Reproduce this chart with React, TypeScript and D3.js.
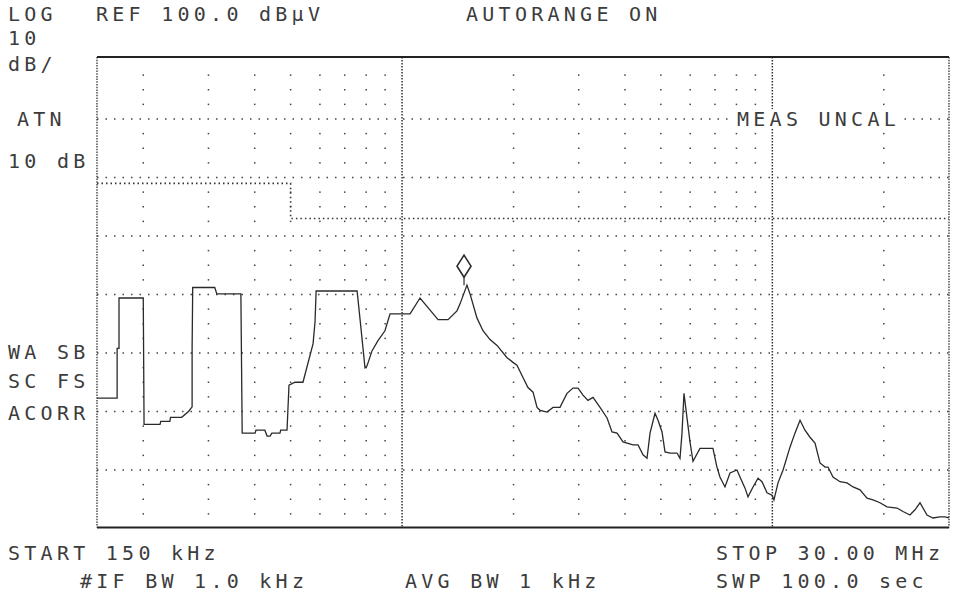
import React from "react";
import * as d3 from "d3";

// Spectrum trace (frequency in MHz, level in dBμV)
const traceFreq = [
  0.15, 0.17, 0.17, 0.172, 0.172, 0.2, 0.201, 0.222, 0.223, 0.236, 0.237, 0.254, 0.265, 0.271, 0.271, 0.272,
  0.312, 0.316, 0.367, 0.37, 0.401, 0.403, 0.426, 0.432, 0.44, 0.445, 0.468, 0.47, 0.489, 0.495, 0.514, 0.54,
  0.575, 0.582, 0.586, 0.756, 0.77, 0.794, 0.804, 0.83, 0.861, 0.899, 0.928, 1.051, 1.118, 1.251, 1.331, 1.407,
  1.434, 1.497, 1.526, 1.593, 1.654, 1.728, 1.805, 1.921, 1.993, 2.043, 2.121, 2.188, 2.258, 2.315, 2.358, 2.463,
  2.557, 2.67, 2.789, 2.895, 2.986, 3.081, 3.178, 3.279, 3.425, 3.578, 3.69, 3.807, 3.951, 4.204, 4.338, 4.475,
  4.587, 4.674, 4.821, 4.912, 5.036, 5.13, 5.292, 5.527, 5.631, 5.702, 5.773, 5.882, 5.993, 6.105, 6.377, 6.912,
  7.086, 7.22, 7.449, 7.685, 8.027, 8.178, 8.438, 8.597, 8.868, 9.149, 9.378, 9.674, 9.98, 10.1, 10.36, 10.69,
  11.16, 11.51, 11.88, 12.25, 12.64, 13.04, 13.45, 13.88, 14.14, 14.58, 15.23, 15.91, 16.52, 17.25, 18.02, 18.7,
  19.53, 20.4, 21.71, 22.54, 23.53, 24.28, 25.05, 26.16, 27.15, 28.36, 29.27, 30.0,
];
const traceLevel = [
  42.3, 42.3, 50.8, 50.8, 59.4, 59.4, 37.8, 37.8, 38.3, 38.3, 39.0, 39.0, 40.0, 40.8, 50.8, 61.2,
  61.2, 60.1, 60.1, 36.3, 36.3, 36.8, 36.8, 35.8, 35.8, 36.3, 36.3, 36.8, 36.8, 44.5, 45.0, 45.0,
  51.6, 55.3, 60.6, 60.6, 55.8, 47.5, 47.8, 50.4, 52.1, 53.8, 56.7, 56.7, 59.4, 55.7, 55.7, 57.2,
  58.4, 61.6, 60.1, 56.0, 53.8, 52.3, 51.3, 49.2, 48.4, 47.9, 45.8, 44.1, 43.3, 40.7, 40.2, 39.9,
  40.7, 40.7, 43.1, 44.0, 44.0, 42.8, 41.9, 42.4, 40.7, 38.9, 36.5, 36.3, 34.8, 34.3, 34.3, 32.6,
  32.0, 36.3, 39.7, 38.5, 36.5, 33.1, 32.9, 32.9, 32.0, 36.3, 43.1, 38.9, 34.8, 31.5, 33.7, 33.7,
  30.5, 28.8, 27.1, 29.5, 30.0, 28.8, 26.9, 25.4, 27.1, 28.6, 28.0, 26.1, 25.7, 24.9, 27.8, 30.0,
  33.9, 36.3, 38.5, 36.8, 35.6, 34.6, 31.2, 30.5, 30.5, 28.8, 28.0, 27.8, 27.1, 26.6, 25.2, 24.9,
  24.4, 23.7, 23.5, 22.9, 22.3, 23.2, 24.4, 22.3, 21.8, 22.0, 22.0, 21.8,
];

// Limit line (CISPR class A QP)
const limitFreq = [0.15, 0.5, 0.5, 30];
const limitLevel = [79, 79, 73, 73];

// Marker
const markerFreq = 1.47;
const markerLevel = 61.6;

// Graticule
const decadeFreqs = [1, 10];
const minorFreqs = [0.2, 0.3, 0.4, 0.5, 0.6, 0.7, 0.8, 0.9, 2, 3, 4, 5, 6, 7, 8, 9, 20];
const levelLines = [30, 40, 50, 60, 70, 80, 90];
const refLevel = 100;
const bottomLevel = 20;

const FONT = "'DejaVu Sans Mono', 'Liberation Mono', monospace";
const INK = "#2a2a2a";

export default function App() {
  const x = d3.scaleLog().domain([0.15, 30]).range([97, 949]);
  const y = d3.scaleLinear().domain([bottomLevel, refLevel]).range([528.5, 60.5]);

  const line = d3
    .line<number>()
    .x((_, i) => x(traceFreq[i]))
    .y((d) => y(d));
  const limitLine = d3
    .line<number>()
    .x((_, i) => x(limitFreq[i]))
    .y((d) => y(d));

  const dotLevels: number[] = [];
  for (let v = bottomLevel + 2.5; v < refLevel; v += 2.5) {
    if (Math.abs(v % 10) > 0.01) dotLevels.push(v);
  }

  const [x0, x1] = x.range();
  const yb = 527.5;
  const yt = 57;
  const mx = x(markerFreq);
  const my = y(markerLevel);

  const txt = (s: string, tx: number, ty: number, key: string) => (
    <text
      key={key}
      x={tx}
      y={ty}
      fontFamily={FONT}
      fontSize={20}
      letterSpacing={4.26}
      fill="#3c3c3c"
    >
      {s}
    </text>
  );

  return (
    <svg
      width={956}
      height={604}
      style={{ position: "absolute", left: 0, top: 0, background: "#fff" }}
    >
      <rect x={0} y={0} width={956} height={604} fill="#fff" />
      {/* horizontal graticule lines */}
      {levelLines.map((v) => (
        <line
          key={"h" + v}
          x1={x0}
          x2={x1}
          y1={y(v)}
          y2={y(v)}
          stroke="#444"
          strokeWidth={1.5}
          strokeDasharray="1.5 7"
        />
      ))}
      {/* minor frequency column dots */}
      {minorFreqs.map((f) =>
        dotLevels.map((v) => (
          <rect
            key={"d" + f + "_" + v}
            x={x(f) - 0.75}
            y={y(v) - 0.75}
            width={1.5}
            height={1.5}
            fill="#444"
          />
        ))
      )}
      {/* decade lines */}
      {decadeFreqs.map((f) => (
        <line
          key={"v" + f}
          x1={x(f)}
          x2={x(f)}
          y1={yt}
          y2={yb}
          stroke="#333"
          strokeWidth={1.5}
          strokeDasharray="1.5 1.5"
        />
      ))}
      {/* frame */}
      <line x1={x0} x2={x0} y1={yt} y2={yb} stroke="#333" strokeWidth={1.3} strokeDasharray="1.5 1.2" />
      <line x1={x1} x2={x1} y1={yt} y2={yb} stroke="#333" strokeWidth={1.3} strokeDasharray="1.5 1.2" />
      <line x1={x0} x2={x1} y1={yt} y2={yt} stroke="#222" strokeWidth={2} />
      <line x1={x0} x2={x1} y1={yb} y2={yb} stroke="#222" strokeWidth={2} />

      {/* limit line */}
      <path
        d={limitLine(limitLevel) || ""}
        fill="none"
        stroke="#333"
        strokeWidth={1.6}
        strokeDasharray="1.5 3"
      />

      {/* trace */}
      <path d={line(traceLevel) || ""} fill="none" stroke={INK} strokeWidth={1.3} />

      {/* marker */}
      <line x1={mx} x2={mx} y1={my} y2={my - 8} stroke={INK} strokeWidth={1.2} />
      <path
        d={`M${mx},${my - 30} L${mx + 7},${my - 19} L${mx},${my - 8} L${mx - 7},${my - 19} Z`}
        fill="none"
        stroke={INK}
        strokeWidth={1.6}
      />

      {/* knockouts behind labels that sit on graticule lines */}
      <rect x={730} y={y(90) - 10} width={172} height={20} fill="#fff" />
      <rect x={0} y={y(90) - 10} width={96} height={20} fill="#fff" />
      <rect x={0} y={y(50) - 10} width={96} height={20} fill="#fff" />
      <rect x={0} y={y(40) - 10} width={96} height={20} fill="#fff" />

      {/* annotations */}
      {txt("LOG", 8, 21, "a1")}
      {txt("REF 100.0 dBμV", 96, 21, "a2")}
      {txt("AUTORANGE ON", 466, 21, "a3")}
      {txt("10", 8, 45, "a4")}
      {txt("dB/", 8, 71, "a5")}
      {txt("ATN", 17, y(90) + 7, "a6")}
      {txt("10 dB", 8, 168, "a7")}
      {txt("MEAS UNCAL", 737, y(90) + 7, "a8")}
      {txt("WA SB", 8, y(50) + 6, "a9")}
      {txt("SC FS", 8, 388, "a10")}
      {txt("ACORR", 8, y(40) + 8, "a11")}
      {txt("START 150 kHz", 8, 560, "b1")}
      {txt("STOP 30.00 MHz", 716, 560, "b2")}
      {txt("#IF BW 1.0 kHz", 80, 588, "b3")}
      {txt("AVG BW 1 kHz", 405, 588, "b4")}
      {txt("SWP 100.0  sec", 716, 588, "b5")}
    </svg>
  );
}
